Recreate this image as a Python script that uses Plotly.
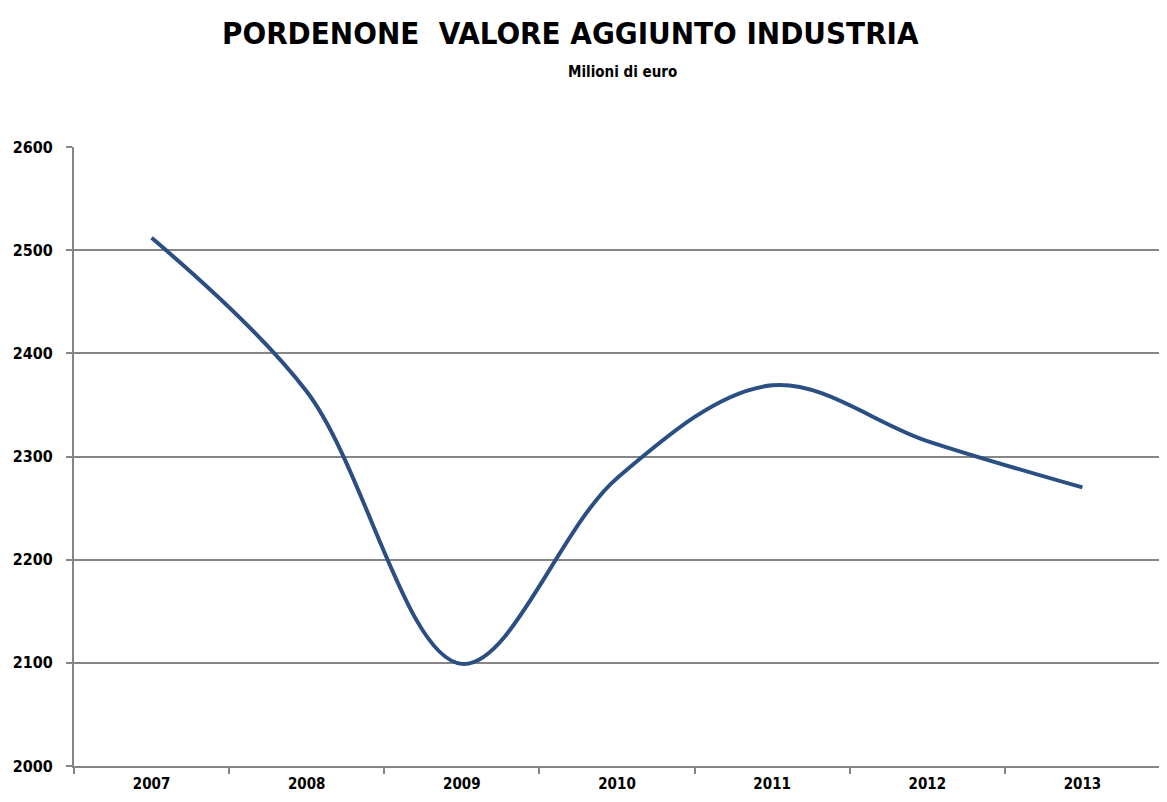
import plotly.graph_objects as go

years = ["2007", "2008", "2009", "2010", "2011", "2012", "2013"]
valore = [2512, 2363, 2099, 2279, 2369, 2315, 2270]
y_ticks = [2000, 2100, 2200, 2300, 2400, 2500, 2600]

title_text = "PORDENONE  VALORE AGGIUNTO INDUSTRIA"
subtitle_text = "Milioni di euro"

FONT = "DejaVu Sans Condensed, Liberation Sans Narrow, Liberation Sans, sans-serif"

# page body has an 8px offset; size figure so it ends at the window edge
W, H = 1159, 794
OFF = 8

fig = go.Figure()
fig.add_trace(go.Scatter(
    x=years, y=valore, mode="lines",
    line=dict(color="#2b4f82", width=4, shape="spline", smoothing=1.0),
    showlegend=False, hoverinfo="x+y",
))

ml, mr, mt, mb = 74 - OFF, 7, 147 - OFF, 36
pw = W - ml - mr
ph = H - mt - mb
fig.update_layout(
    width=W, height=H,
    paper_bgcolor="white", plot_bgcolor="white",
    margin=dict(l=ml, r=mr, t=mt, b=mb, autoexpand=False),
    font=dict(family=FONT, color="black"),
    annotations=[
        dict(text="<b>" + title_text + "</b>", xref="paper", yref="paper",
             x=((570 - OFF) - ml) / pw, y=1 + (mt - (33 - OFF)) / ph,
             xanchor="center", yanchor="middle", showarrow=False,
             font=dict(size=31, family=FONT, color="black")),
        dict(text="<b>" + subtitle_text + "</b>", xref="paper", yref="paper",
             x=((622 - OFF) - ml) / pw, y=1 + (mt - (72 - OFF)) / ph,
             xanchor="center", yanchor="middle", showarrow=False,
             font=dict(size=15, family=FONT, color="black")),
    ],
)

fig.update_xaxes(
    type="category", range=[-0.5, 6.5],
    showline=True, linecolor="#868686", linewidth=2,
    ticks="outside", tickson="boundaries", ticklen=6, tickcolor="#868686", tickwidth=2,
    showgrid=False,
    tickvals=years, ticktext=["<b>" + y + "</b>" for y in years],
    tickfont=dict(size=15, family=FONT, color="black"),
    ticklabelstandoff=3,
)
fig.update_yaxes(
    range=[2000, 2600],
    showline=True, linecolor="#868686", linewidth=2,
    ticks="outside", ticklen=6, tickcolor="#868686", tickwidth=2,
    showgrid=True, gridcolor="#868686", gridwidth=2,
    zeroline=False,
    tickvals=y_ticks, ticktext=["<b>" + str(v) + "</b>" for v in y_ticks],
    tickfont=dict(size=16, family=FONT, color="black"),
    ticklabelstandoff=10,
)

fig.write_html("out.html")
